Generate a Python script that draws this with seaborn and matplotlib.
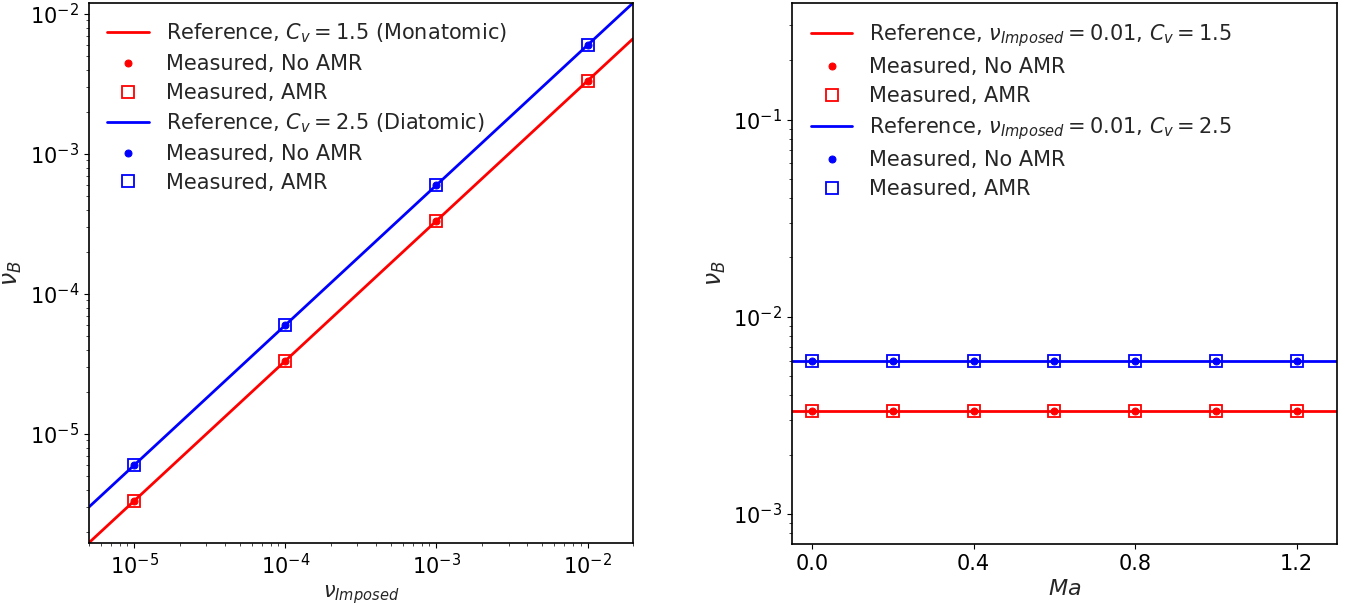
import numpy as np
import pandas as pd
import matplotlib
matplotlib.use("Agg")
import matplotlib.pyplot as plt
import seaborn as sns

# ---- data (left panel) ----
nu_imposed = [1e-5, 1e-4, 1e-3, 1e-2]
nuB_mono_noamr = [3.33e-6, 3.33e-5, 3.33e-4, 3.33e-3]
nuB_mono_amr = [3.33e-6, 3.33e-5, 3.33e-4, 3.33e-3]
nuB_dia_noamr = [6.0e-6, 6.0e-5, 6.0e-4, 6.0e-3]
nuB_dia_amr = [6.0e-6, 6.0e-5, 6.0e-4, 6.0e-3]
ref_x = [5e-6, 2e-2]
ref_mono = [1.667e-6, 6.667e-3]
ref_dia = [3.0e-6, 1.2e-2]

# ---- data (right panel) ----
mach = [0.0, 0.2, 0.4, 0.6, 0.8, 1.0, 1.2]
nuB_ma_mono_noamr = [3.33e-3] * 7
nuB_ma_mono_amr = [3.33e-3] * 7
nuB_ma_dia_noamr = [6.0e-3] * 7
nuB_ma_dia_amr = [6.0e-3] * 7
ref_ma_x = [-0.05, 1.3]
ref_ma_mono = [3.33e-3, 3.33e-3]
ref_ma_dia = [6.0e-3, 6.0e-3]

sns.set_style("ticks")
plt.rcParams['font.family'] = ['DejaVu Sans']
plt.rcParams['mathtext.fontset'] = 'dejavusans'
FS = 15
plt.rcParams['font.size'] = FS

W, H = 1354, 605
fig = plt.figure(figsize=(W / 100, H / 100), dpi=100)
ax1 = fig.add_axes([88.7 / W, (H - 543) / H, (633 - 88.7) / W, 540 / H])
ax2 = fig.add_axes([792 / W, (H - 544) / H, (1337 - 792) / W, 541 / H])

LW = 2
MS_DOT = 5
MS_SQ = 8


def panel(ax, xr, r1, r2, x, m1n, m1a, m2n, m2a, lab1, lab2):
    sns.lineplot(x=xr, y=r1, ax=ax, color='red', lw=LW, label=lab1)
    sns.lineplot(x=x, y=m1n, ax=ax, color='red', linestyle='', marker='o',
                 markersize=MS_DOT, markeredgecolor='red', label='Measured, No AMR')
    sns.lineplot(x=x, y=m1a, ax=ax, color='red', linestyle='', marker='s',
                 markersize=MS_SQ, markerfacecolor='none', markeredgecolor='red',
                 markeredgewidth=1.3, label='Measured, AMR')
    sns.lineplot(x=xr, y=r2, ax=ax, color='blue', lw=LW, label=lab2)
    sns.lineplot(x=x, y=m2n, ax=ax, color='blue', linestyle='', marker='o',
                 markersize=MS_DOT, markeredgecolor='blue', label='Measured, No AMR')
    sns.lineplot(x=x, y=m2a, ax=ax, color='blue', linestyle='', marker='s',
                 markersize=MS_SQ, markerfacecolor='none', markeredgecolor='blue',
                 markeredgewidth=1.3, label='Measured, AMR')
    ax.legend(loc='upper left', frameon=False, fontsize=FS, labelspacing=0.42)


panel(ax1, ref_x, ref_mono, ref_dia, nu_imposed,
      nuB_mono_noamr, nuB_mono_amr, nuB_dia_noamr, nuB_dia_amr,
      r'Reference, $C_v = 1.5$ (Monatomic)', r'Reference, $C_v = 2.5$ (Diatomic)')
ax1.set_xscale('log')
ax1.set_yscale('log')
ax1.set_xlim(5e-6, 2e-2)
ax1.set_ylim(1.667e-6, 1.2e-2)
ax1.set_xlabel(r'$\nu_{Imposed}$', fontsize=FS)
ax1.set_ylabel(r'$\nu_B$', fontsize=17)

panel(ax2, ref_ma_x, ref_ma_mono, ref_ma_dia, mach,
      nuB_ma_mono_noamr, nuB_ma_mono_amr, nuB_ma_dia_noamr, nuB_ma_dia_amr,
      r'Reference, $\nu_{Imposed} = 0.01$, $C_v = 1.5$',
      r'Reference, $\nu_{Imposed} = 0.01$, $C_v = 2.5$')
ax2.set_yscale('log')
ax2.set_xlim(-0.05, 1.3)
ax2.set_ylim(7.05e-4, 0.39)
ax2.set_xticks([0.0, 0.4, 0.8, 1.2])
ax2.set_xticklabels(['0.0', '0.4', '0.8', '1.2'])
ax2.set_xlabel(r'$Ma$', fontsize=16)
ax2.set_ylabel(r'$\nu_B$', fontsize=17)

for ax in (ax1, ax2):
    ax.tick_params(labelsize=FS, colors='black')
    for s in ax.spines.values():
        s.set_visible(True)
        s.set_color('black')
        s.set_linewidth(1.2)

fig.savefig('out.png', dpi=100)
